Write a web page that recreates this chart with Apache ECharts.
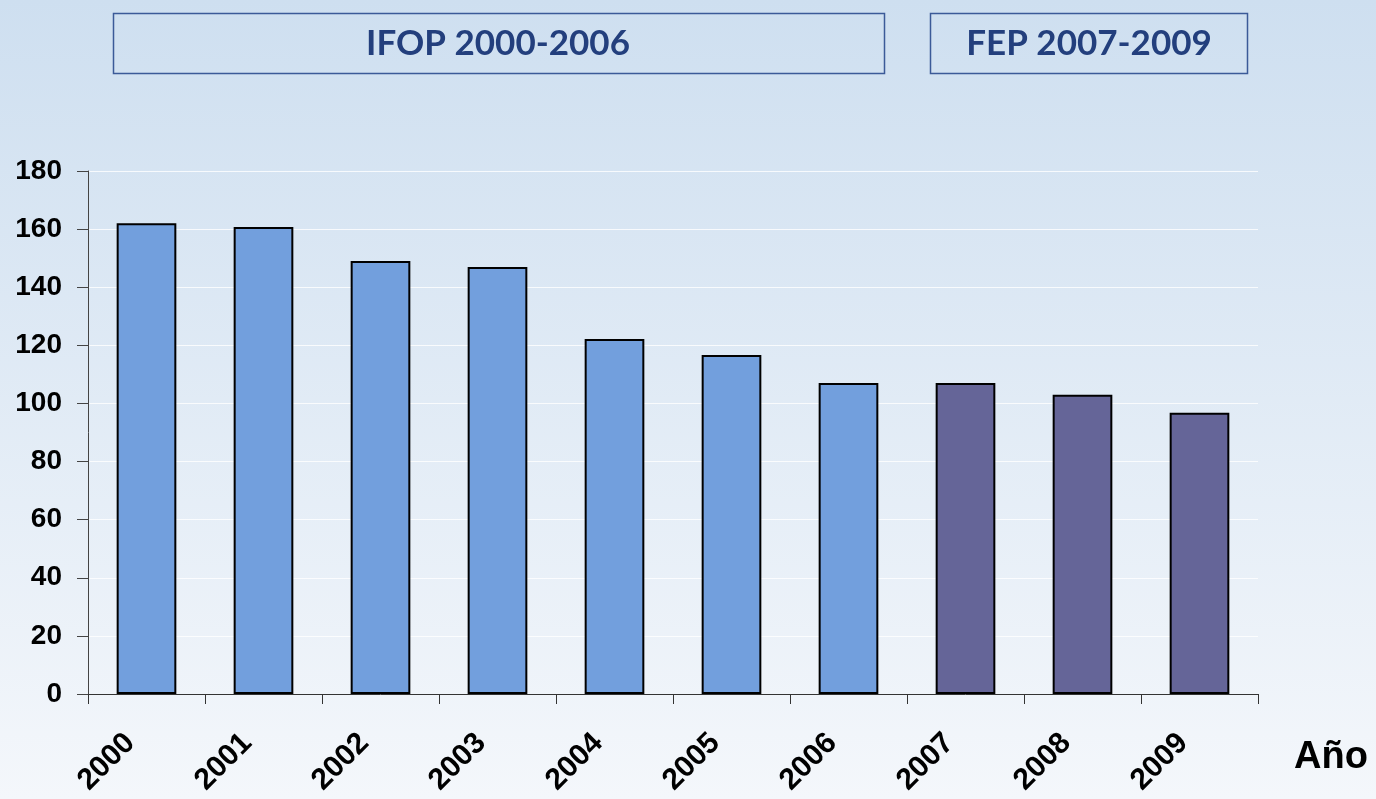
<!DOCTYPE html>
<html>
<head>
<meta charset="utf-8">
<script src="https://cdn.jsdelivr.net/npm/echarts@6/dist/echarts.min.js"></script>
<style>
  html, body { margin: 0; padding: 0; }
  #chart { width: 1376px; height: 799px; }
</style>
</head>
<body>
<div id="chart"></div>
<script>
// Years on the category axis
const years = ['2000', '2001', '2002', '2003', '2004', '2005', '2006', '2007', '2008', '2009'];
// Yearly values
const values = [162, 160.7, 149, 147, 122.2, 116.7, 107, 107, 103, 96.8];
// Funding programme of each year
const programme = ['IFOP', 'IFOP', 'IFOP', 'IFOP', 'IFOP', 'IFOP', 'IFOP', 'FEP', 'FEP', 'FEP'];
// Programme headings shown in the top boxes
const headings = ['IFOP 2000-2006', 'FEP 2007-2009'];
const axisName = 'Año';

const colours = { IFOP: '#729fdd', FEP: '#656598' };

const chart = echarts.init(document.getElementById('chart'));

const boxText = {
  fontFamily: 'Lato, "Open Sans", sans-serif',
  fontWeight: 'bold',
  fontSize: 35,
  fill: '#233f7d'
};

chart.setOption({
  backgroundColor: new echarts.graphic.LinearGradient(0, 0, 0, 1, [
    { offset: 0, color: '#cedff0' },
    { offset: 1, color: '#f4f7fb' }
  ]),
  animation: false,
  grid: { left: 88, right: 118, top: 171, bottom: 105, containLabel: false, outerBoundsMode: 'none' },
  xAxis: {
    type: 'category',
    data: years,
    axisLine: { lineStyle: { color: '#333', width: 1 } },
    axisTick: { show: true, length: 10, lineStyle: { color: '#333' } },
    axisLabel: {
      rotate: 45,
      margin: 28,
      padding: [0, 23, 44, 0],
      fontFamily: '"Liberation Sans", Arial, sans-serif',
      fontWeight: 'bold',
      fontSize: 30,
      color: '#000'
    },
    splitLine: { show: false }
  },
  yAxis: {
    type: 'value',
    min: 0,
    max: 180,
    interval: 20,
    axisLine: { show: true, lineStyle: { color: '#444', width: 1 } },
    axisTick: { show: true, length: 11, lineStyle: { color: '#444' } },
    axisLabel: {
      margin: 26,
      fontFamily: '"Liberation Sans", Arial, sans-serif',
      fontWeight: 'bold',
      fontSize: 28,
      color: '#000'
    },
    splitLine: { show: true, lineStyle: { color: 'rgba(255,255,255,0.8)', width: 1.2 } }
  },
  series: [{
    type: 'bar',
    barWidth: '51%',
    data: values.map((v, i) => ({
      value: v,
      itemStyle: { color: colours[programme[i]], borderColor: '#000', borderWidth: 2 }
    }))
  }],
  graphic: [
    {
      type: 'rect',
      shape: { x: 113.5, y: 13.5, width: 771, height: 60 },
      style: { fill: 'transparent', stroke: '#3b5a98', lineWidth: 1.5 }
    },
    {
      type: 'text',
      x: 498, y: 44,
      style: Object.assign({ text: headings[0], align: 'center', verticalAlign: 'middle' }, boxText)
    },
    {
      type: 'rect',
      shape: { x: 930.5, y: 13.5, width: 317, height: 60 },
      style: { fill: 'transparent', stroke: '#3b5a98', lineWidth: 1.5 }
    },
    {
      type: 'text',
      x: 1089, y: 44,
      style: Object.assign({ text: headings[1], align: 'center', verticalAlign: 'middle' }, boxText)
    },
    {
      type: 'text',
      x: 1331, y: 758,
      style: {
        text: axisName,
        align: 'center',
        verticalAlign: 'middle',
        fontFamily: '"Liberation Sans", Arial, sans-serif',
        fontWeight: 'bold',
        fontSize: 38,
        fill: '#000'
      }
    }
  ]
});
</script>
</body>
</html>
